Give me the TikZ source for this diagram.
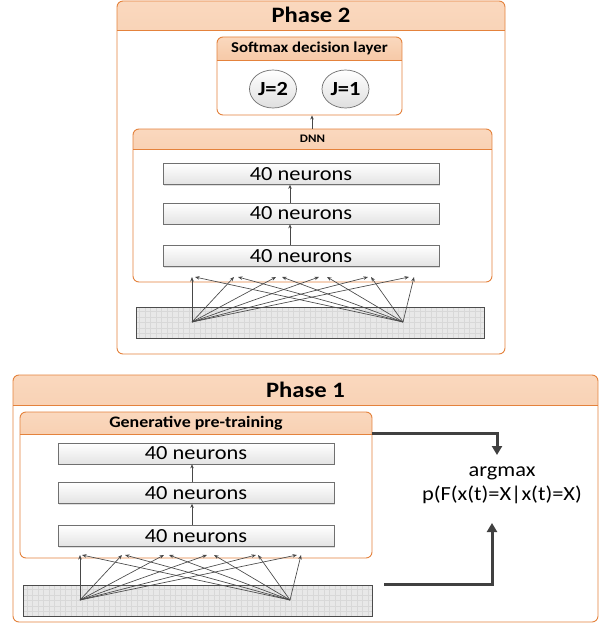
\documentclass[tikz,border=0pt]{standalone}
\usepackage{fontspec}
\setmainfont{Carlito}[FakeStretch=1.12]
\usetikzlibrary{shapes.geometric,arrows.meta,shadows,calc}

\definecolor{pborder}{RGB}{228,130,60}
\definecolor{hdtop}{RGB}{250,216,190}
\definecolor{hdbot}{RGB}{238,166,114}
\definecolor{boxline}{RGB}{112,112,112}
\definecolor{barfill}{RGB}{232,232,232}
\definecolor{gridc}{RGB}{216,216,216}
\definecolor{arrowc}{RGB}{64,64,64}
\definecolor{fanc}{RGB}{72,72,72}

\tikzset{
  panel/.style={draw=pborder, line width=0.9pt, fill=white, rounded corners=6pt,
    inner sep=0pt,
    path picture={
      \shade[sharp corners, top color=hdtop, bottom color=hdbot]
        (path picture bounding box.north west) rectangle
        ([yshift=-#1]path picture bounding box.north east);
      \draw[sharp corners, pborder, line width=0.9pt]
        ([yshift=-#1]path picture bounding box.north west) --
        ([yshift=-#1]path picture bounding box.north east);
    }},
  bigtitle/.style={font=\bfseries\fontsize{22}{22}\selectfont, inner sep=0pt},
  layer/.style={draw=boxline, line width=0.7pt, top color=white, bottom color=gray!22,
    minimum width=276pt, minimum height=21pt, inner sep=0pt,
    font=\fontsize{20}{20}\selectfont,
    drop shadow={shadow xshift=1pt, shadow yshift=-1pt, opacity=0.25}},
  unit/.style={ellipse, draw=boxline, line width=0.7pt, top color=white, bottom color=gray!25,
    minimum width=47pt, minimum height=38pt, inner sep=0pt,
    font=\bfseries\fontsize{20}{20}\selectfont},
  inbar/.style={draw=gray!60!black, line width=0.8pt, fill=barfill, inner sep=0pt,
    minimum height=31pt,
    path picture={
      \draw[gridc, line width=0.2pt, step=5.5pt]
        (path picture bounding box.south west) grid
        (path picture bounding box.north east);
    }},
  thinarrow/.style={draw=fanc, line width=0.6pt, -{Stealth[length=4pt,width=3.5pt]}},
  fan/.style={draw=fanc, line width=0.65pt, -{Stealth[length=4.5pt,width=3.5pt]}},
  bigarrow/.style={draw=arrowc, line width=3pt, -{Triangle[length=9pt,width=10pt]}},
}

\begin{document}
\begin{tikzpicture}[x=1pt, y=-1pt]
\useasboundingbox (0,0) rectangle (600,626);

% ---------------- Phase 2 ----------------
\node[panel=29pt, minimum width=388pt, minimum height=353pt] (ph2) at (311,177.5) {};
\node[bigtitle] (ph2t) at (311,15) {Phase 2};

\node[panel=23pt, minimum width=185pt, minimum height=78pt] (soft) at (309.5,76) {};
\node[font=\bfseries\fontsize{15}{15}\selectfont, inner sep=0pt] (softt) at (309.5,48.5) {Softmax decision layer};
\node[unit] (j2) at (273,89) {J=2};
\node[unit] (j1) at (345.5,89) {J=1};

\node[panel=20pt, minimum width=359pt, minimum height=153pt] (dnn) at (312.5,205.5) {};
\node[font=\bfseries\fontsize{11.5}{11.5}\selectfont, inner sep=0pt] (dnnt) at (312.5,139) {DNN};

\node[layer] (a3) at (301,174) {40 neurons};
\node[layer] (a2) at (301,213.5) {40 neurons};
\node[layer] (a1) at (301,256) {40 neurons};
\draw[thinarrow] ([xshift=-11pt]a1.north) -- ([xshift=-11pt]a2.south);
\draw[thinarrow] ([xshift=-11pt]a2.north) -- ([xshift=-11pt]a3.south);
\draw[thinarrow] ([xshift=-0.5pt]dnn.north) -- ([xshift=-0.5pt]dnn.north |- soft.south);

\node[inbar, minimum width=348pt] (bar2) at (310,322.5) {};
\coordinate (s2a) at (192,322);
\coordinate (s2b) at (403,322);
\foreach \dx [count=\i] in {0,42,84,127,176,217} {
  \coordinate (t2a\i) at ($(s2a)+(\dx,-45)$);
  \draw[fan] (s2a) -- (t2a\i);
}
\foreach \dx [count=\i] in {-208,-165,-121,-76,-32,11} {
  \coordinate (t2b\i) at ($(s2b)+(\dx,-45)$);
  \draw[fan] (s2b) -- (t2b\i);
}

% ---------------- Phase 1 ----------------
\node[panel=30pt, minimum width=585pt, minimum height=247pt] (ph1) at (305.5,498.5) {};
\node[bigtitle] (ph1t) at (305.5,390) {Phase 1};

\node[panel=22pt, minimum width=352pt, minimum height=146pt] (gen) at (196,485) {};
\node[font=\bfseries\fontsize{16}{16}\selectfont, inner sep=0pt] (gent) at (196,423) {Generative pre-training};

\node[layer] (b3) at (196,453.5) {40 neurons};
\node[layer] (b2) at (196,493) {40 neurons};
\node[layer] (b1) at (196,536) {40 neurons};
\draw[thinarrow] ([xshift=-4pt]b1.north) -- ([xshift=-4pt]b2.south);
\draw[thinarrow] ([xshift=-4pt]b2.north) -- ([xshift=-4pt]b3.south);

\node[inbar, minimum width=349pt] (bar1) at (197.5,600.5) {};
\coordinate (s1a) at (80,600);
\coordinate (s1b) at (290,600);
\foreach \dx [count=\i] in {0,42,84,127,176,217} {
  \coordinate (t1a\i) at ($(s1a)+(\dx,-45)$);
  \draw[fan] (s1a) -- (t1a\i);
}
\foreach \dx [count=\i] in {-208,-165,-121,-76,-32,11} {
  \coordinate (t1b\i) at ($(s1b)+(\dx,-45)$);
  \draw[fan] (s1b) -- (t1b\i);
}

\node[align=center, font=\fontsize{20}{24}\selectfont, inner sep=0pt] (res) at (502,485)
  {argmax\\p(F(x(t)=X|x(t)=X)};
\coordinate (rtop) at (497,455);
\coordinate (rbot) at (492,523);
\draw[bigarrow] ([yshift=-22pt]gen.north east) -| (rtop);
\draw[bigarrow] ([xshift=12pt]bar1.north east) -| (rbot);
\end{tikzpicture}
\end{document}
